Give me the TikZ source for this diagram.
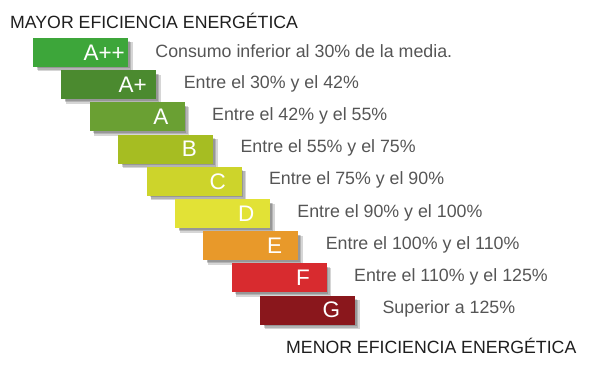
\documentclass[tikz,border=0pt]{standalone}
\usepackage{fontspec}
\setmainfont{Liberation Sans}
\definecolor{cApp}{HTML}{3DA63A}
\definecolor{cAp}{HTML}{4B8A2F}
\definecolor{cA}{HTML}{6AA033}
\definecolor{cB}{HTML}{A6BD22}
\definecolor{cC}{HTML}{CDD42B}
\definecolor{cD}{HTML}{E2E236}
\definecolor{cE}{HTML}{E8992A}
\definecolor{cF}{HTML}{D82B2F}
\definecolor{cG}{HTML}{8A171C}
\definecolor{txtgray}{HTML}{555555}
\definecolor{headgray}{HTML}{1E1E1E}
\begin{document}
\begin{tikzpicture}[x=1pt,y=-1pt,
  bar/.style={minimum width=95pt,minimum height=29pt,inner sep=0pt},
  shadowpart/.style={fill=black,opacity=0.16},
  lbl/.style={text=white,font=\fontsize{22.5}{22}\selectfont,anchor=center},
  desc/.style={text=txtgray,font=\fontsize{17.8}{19}\selectfont,anchor=west,inner sep=0pt},
  head/.style={text=headgray,font=\fontsize{17.7}{20}\selectfont,anchor=west,inner sep=0pt}]
\useasboundingbox (0,0) rectangle (601,385);
\node[head] (top) at (10,21) {MAYOR EFICIENCIA ENERGÉTICA};
\foreach \n/\c/\l/\d [count=\i from 0] in {
  app/cApp/A++/Consumo inferior al 30\% de la media.,
  ap/cAp/A+/Entre el 30\% y el 42\%,
  a/cA/A/Entre el 42\% y el 55\%,
  b/cB/B/Entre el 55\% y el 75\%,
  c/cC/C/Entre el 75\% y el 90\%,
  d/cD/D/Entre el 90\% y el 100\%,
  e/cE/E/Entre el 100\% y el 110\%,
  f/cF/F/Entre el 110\% y el 125\%,
  g/cG/G/Superior a 125\%}{
  \pgfmathsetmacro{\cx}{80.5+28.4*\i}
  \pgfmathsetmacro{\cy}{52.5+32.2*\i}
  \foreach \s/\g in {1.5/1.5,2.5/1,3.5/0.5,4.5/0}{
    \fill[shadowpart] (\cx-47.5+\s+\g,\cy-14.5+\s+\g) rectangle (\cx+47.5+\s-\g,\cy+14.5+\s-\g);
  }
  \node[bar,fill=\c] (bar\n) at (\cx,\cy) {};
  \node[lbl] (lbl\n) at ([xshift=-24pt]bar\n.east) {\l};
  \node[desc] (desc\n) at ([xshift=27pt,yshift=1pt]bar\n.east) {\d};
}
\node[head] (bottom) at (286,346) {MENOR EFICIENCIA ENERGÉTICA};
\end{tikzpicture}
\end{document}
